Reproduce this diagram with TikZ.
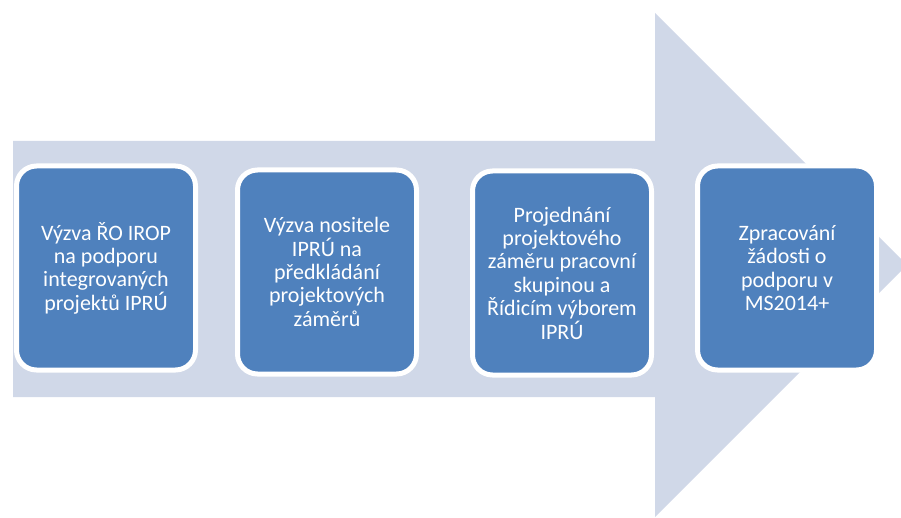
\documentclass[tikz,border=0pt]{standalone}
\usepackage{fontspec}
\setmainfont{Carlito}
\definecolor{arrowbg}{HTML}{D0D8E8}
\definecolor{stepblue}{HTML}{4F81BD}

\begin{document}
\begin{tikzpicture}[x=1pt,y=-1pt,
    krok/.style={draw=white,line width=5pt,fill=stepblue,rounded corners=20pt,
      minimum width=179pt,minimum height=204pt,text=white,align=center,
      font=\fontsize{22}{23.4}\selectfont}]
		\useasboundingbox (0,0) rectangle (901,518);
		\fill[arrowbg] (13,141) -- (655,141) -- (655,13) -- (907,265) -- (655,517) -- (655,397) -- (13,397) -- cycle;
		\node[krok] (vyzvaro) at (106,268) {Výzva ŘO IROP\\na podporu\\integrovaných\\projektů IPRÚ};
		\node[krok] (vyzvanos) at (327,272) {Výzva nositele\\IPRÚ na\\předkládání\\projektových\\záměrů};
		\node[krok] (projednani) at (562,273) {Projednání\\projektového\\záměru pracovní\\skupinou a\\Řídicím výborem\\IPRÚ};
		\node[krok] (zpracovani) at (787,268) {Zpracování\\žádosti o\\podporu v\\MS2014+};
	\end{tikzpicture}
\end{document}
